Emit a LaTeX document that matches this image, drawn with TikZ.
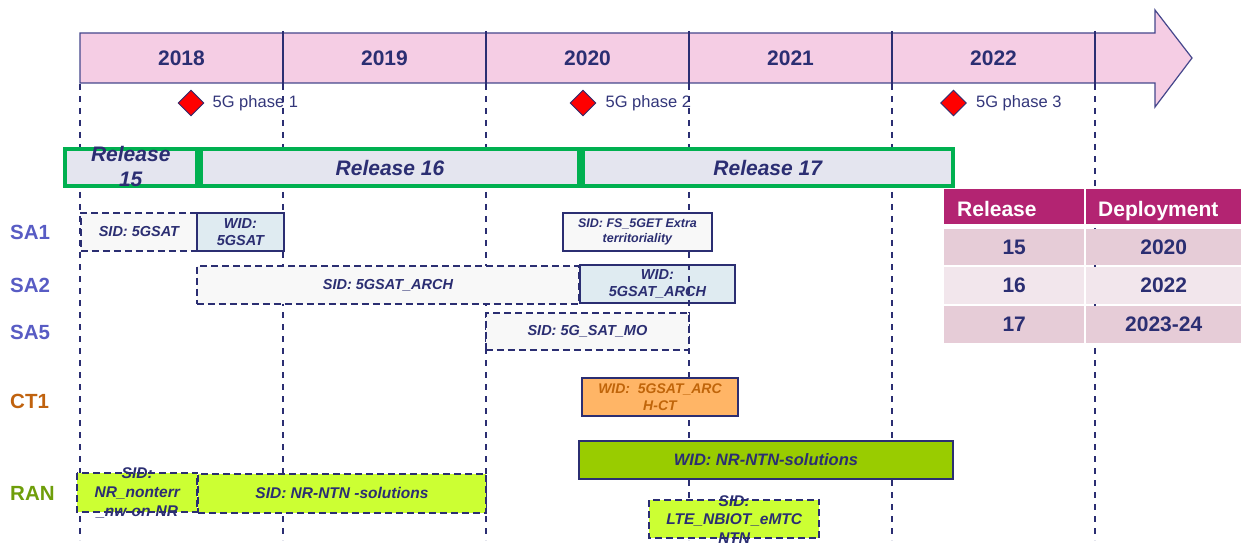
\documentclass[tikz,border=0pt]{standalone}
\usepackage{fontspec}
\setmainfont{Liberation Sans}
\usetikzlibrary{shapes.geometric}
\definecolor{navy}{HTML}{2B2E72}
\definecolor{tlpink}{HTML}{F5CDE4}
\definecolor{tlborder}{HTML}{45478C}
\definecolor{phasetxt}{HTML}{33367A}
\definecolor{relgreen}{HTML}{00B050}
\definecolor{relfill}{HTML}{E4E5EF}
\definecolor{sacol}{HTML}{585CC4}
\definecolor{ctcol}{HTML}{C0620E}
\definecolor{rancol}{HTML}{6E9E0A}
\definecolor{boxgray}{HTML}{F8F8F8}
\definecolor{boxblue}{HTML}{DFEBF1}
\definecolor{boxorange}{HTML}{FFB566}
\definecolor{orangetxt}{HTML}{C0650A}
\definecolor{boxlime}{HTML}{CCFF33}
\definecolor{boxolive}{HTML}{99CC00}
\definecolor{tblhead}{HTML}{B32472}
\definecolor{tbldark}{HTML}{E6CCD7}
\definecolor{tbllight}{HTML}{F2E6EC}
\tikzset{
 yearlbl/.style={font=\fontsize{21}{25}\selectfont\bfseries, text=navy, inner sep=0pt},
 phaselbl/.style={font=\fontsize{16.5}{20}\selectfont, text=phasetxt, inner sep=0pt, anchor=west},
 mile/.style={diamond, aspect=1, fill=red, draw=navy, line width=0.9pt, minimum width=26pt, minimum height=26pt, inner sep=0pt},
 vline/.style={draw=navy, line width=1.9pt, dash pattern=on 6pt off 6pt},
 relbar/.style={draw=relgreen, line width=4pt, fill=relfill, inner sep=0pt, anchor=north west, minimum height=37pt},
 reltxt/.style={font=\fontsize{21}{25}\selectfont\bfseries\itshape, text=navy, align=center, inner sep=0pt},
 rowlbl/.style={font=\fontsize{20.5}{24}\selectfont\bfseries, inner sep=0pt, anchor=west},
 itembox/.style={draw=navy, line width=1.9pt, inner sep=0pt, anchor=north west},
 dashedbox/.style={itembox, dash pattern=on 7pt off 4pt},
 dashborder/.style={draw=navy, line width=1.9pt, dash pattern=on 7pt off 4pt},
 itemtxt/.style={font=\fontsize{14.5}{16.5}\selectfont\bfseries\itshape, text=navy, align=center, inner sep=0pt},
 cellbox/.style={inner sep=0pt, anchor=north west, draw=none},
 celltxt/.style={font=\fontsize{21}{25}\selectfont\bfseries, text=navy, inner sep=0pt},
 headtxt/.style={font=\fontsize{21}{25}\selectfont\bfseries, text=white, inner sep=0pt, anchor=west},
}
\begin{document}
\begin{tikzpicture}[x=1pt,y=-1pt]
\useasboundingbox (0,0) rectangle (1241,545);

% timeline arrow
\draw[fill=tlpink, draw=tlborder, line width=1.2pt] (80,33) -- (1155,33) -- (1155,10) -- (1192,58) -- (1155,107) -- (1155,83) -- (80,83) -- cycle;
\foreach \x in {283,486,689,892,1095} \draw[navy, line width=1.5pt] (\x,31) -- (\x,84);
\node[yearlbl] (y2018) at (181.5,58) {2018};
\node[yearlbl] (y2019) at (384.5,58) {2019};
\node[yearlbl] (y2020) at (587.5,58) {2020};
\node[yearlbl] (y2021) at (790.5,58) {2021};
\node[yearlbl] (y2022) at (993.5,58) {2022};

% milestones
\node[mile] (m1) at (191,103) {};
\node[phaselbl] (ph1) at ([xshift=8pt]m1.east) {5G phase 1};
\node[mile] (m2) at (583,103) {};
\node[phaselbl] (ph2) at ([xshift=9pt]m2.east) {5G phase 2};
\node[mile] (m3) at (953.5,103) {};
\node[phaselbl] (ph3) at ([xshift=9pt]m3.east) {5G phase 3};

% box lying under the grid lines
\node[itembox, fill=boxblue, minimum width=155pt, minimum height=38pt] (widarch) at (579,264) {};
\node[itemtxt] at (widarch.center) {WID:\\5GSAT\_ARCH};

% grid lines
\foreach \x in {80,283,486,689,892,1095} \draw[vline] (\x,84) -- (\x,540);

% releases
\node[relbar, minimum width=132.5pt] (r15) at (62.5,147) {};
\node[relbar, minimum width=378pt] (r16) at (199,147) {};
\node[relbar, minimum width=369.5pt] (r17) at (581,147) {};
\node[reltxt] at ([yshift=1pt]r15.center) {Release\\15};
\node[reltxt] at (r16.center) {Release 16};
\node[reltxt] at (r17.center) {Release 17};

% row labels
\node[rowlbl, text=sacol] (sa1) at (10,232.5) {SA1};
\node[rowlbl, text=sacol] (sa2) at (10,285.5) {SA2};
\node[rowlbl, text=sacol] (sa5) at (10,332.5) {SA5};
\node[rowlbl, text=ctcol] (ct1) at (10,401) {CT1};
\node[rowlbl, text=rancol] (ran) at (10,493.5) {RAN};

% SA1
\node[dashedbox, fill=boxgray, minimum width=116pt, minimum height=38pt] (sid5gsat) at (80,212) {};
\node[itemtxt] at (sid5gsat.center) {SID: 5GSAT};
\node[itembox, fill=boxblue, minimum width=87pt, minimum height=38pt] (wid5gsat) at (196,212) {};
\node[itemtxt] at (wid5gsat.center) {WID:\\5GSAT};
\node[itembox, fill=boxgray, minimum width=149pt, minimum height=38.5pt] (fs5get) at (562,212) {};
\node[itemtxt, font=\fontsize{12.5}{15}\selectfont\bfseries\itshape] at (fs5get.center) {SID: FS\_5GET Extra\\territoriality};

% SA2
\node[dashedbox, fill=boxgray, minimum width=382pt, minimum height=38pt] (sidarch) at (196,265) {};
\node[itemtxt] at (sidarch.center) {SID: 5GSAT\_ARCH};

% SA5
\node[dashedbox, fill=boxgray, minimum width=203pt, minimum height=37pt] (sidmo) at (485,312) {};
\node[itemtxt] at (sidmo.center) {SID: 5G\_SAT\_MO};

% CT1
\node[itembox, fill=boxorange, minimum width=156pt, minimum height=38pt] (widct) at (581,377) {};
\node[itemtxt, text=orangetxt, font=\fontsize{14}{16.5}\selectfont\bfseries\itshape] at (widct.center) {WID:\ \ 5GSAT\_ARC\\H-CT};

% RAN
\node[itembox, fill=boxolive, minimum width=374pt, minimum height=38pt] (widnr) at (578,440) {};
\node[itemtxt, font=\fontsize{16.5}{19}\selectfont\bfseries\itshape] at (widnr.center) {WID: NR-NTN-solutions};
\node[dashedbox, fill=boxlime, minimum width=288pt, minimum height=39pt] (sidntn) at (197,473) {};
\node[itemtxt, font=\fontsize{15.5}{19}\selectfont\bfseries\itshape] at (sidntn.center) {SID: NR-NTN -solutions};
\node[cellbox, fill=boxlime, minimum width=120pt, minimum height=39pt] (nonterr) at (77,473) {};
\node[itemtxt, font=\fontsize{15.5}{19}\selectfont\bfseries\itshape] at (nonterr.center) {SID:\\NR\_nonterr\\\_nw-on-NR};
\draw[dashborder] (nonterr.north west) rectangle (nonterr.south east);
\node[cellbox, fill=boxlime, minimum width=170pt, minimum height=38pt] (lte) at (649,500) {};
\node[itemtxt, font=\fontsize{15.5}{18.5}\selectfont\bfseries\itshape] at (lte.center) {SID:\\LTE\_NBIOT\_eMTC\\NTN};
\draw[dashborder] (lte.north west) rectangle (lte.south east);

% table
\node[cellbox, fill=tblhead, minimum width=140pt, minimum height=35pt] (h1) at (944,189) {};
\node[cellbox, fill=tblhead, minimum width=155pt, minimum height=35pt] (h2) at (1086,189) {};
\node[headtxt, text height=19pt, text depth=0pt] at ([xshift=13pt]h1.west) {Release};
\node[headtxt, text height=19pt, text depth=0pt] at ([xshift=12pt]h2.west) {Deployment};
\node[cellbox, fill=tbldark, minimum width=140pt, minimum height=35pt] (a1) at (944,229.3) {};
\node[cellbox, fill=tbldark, minimum width=155pt, minimum height=35pt] (b1) at (1086,229.3) {};
\node[cellbox, fill=tbllight, minimum width=140pt, minimum height=37pt] (a2) at (944,266.3) {};
\node[cellbox, fill=tbllight, minimum width=155pt, minimum height=37pt] (b2) at (1086,266.3) {};
\node[cellbox, fill=tbldark, minimum width=140pt, minimum height=37pt] (a3) at (944,305.3) {};
\node[cellbox, fill=tbldark, minimum width=155pt, minimum height=37pt] (b3) at (1086,305.3) {};
\node[celltxt, text height=15pt, text depth=0pt] at (a1.center) {15};
\node[celltxt, text height=15pt, text depth=0pt] at (b1.center) {2020};
\node[celltxt, text height=15pt, text depth=0pt] at (a2.center) {16};
\node[celltxt, text height=15pt, text depth=0pt] at (b2.center) {2022};
\node[celltxt, text height=15pt, text depth=0pt] at (a3.center) {17};
\node[celltxt, text height=15pt, text depth=0pt] at (b3.center) {2023-24};
\end{tikzpicture}
\end{document}
